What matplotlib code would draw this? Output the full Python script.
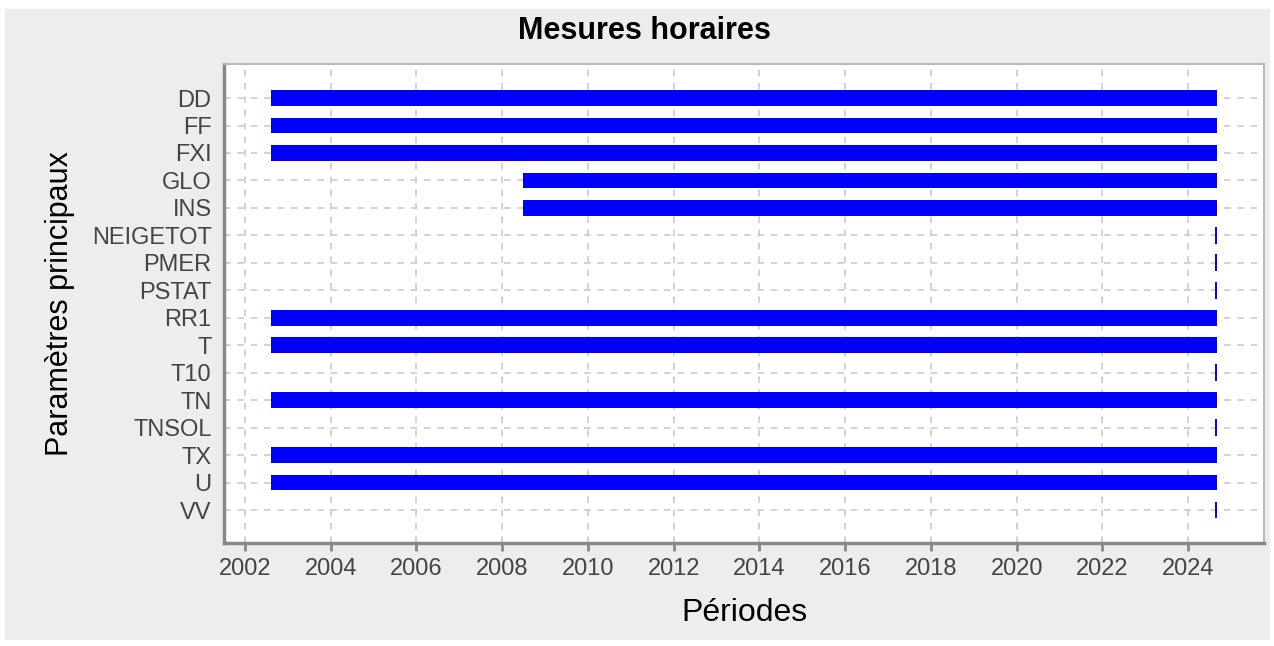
import matplotlib
matplotlib.use("Agg")
import matplotlib.pyplot as plt
from matplotlib.patches import Rectangle

params = ["DD", "FF", "FXI", "GLO", "INS", "NEIGETOT", "PMER", "PSTAT",
          "RR1", "T", "T10", "TN", "TNSOL", "TX", "U", "VV"]
starts = [2002.61, 2002.61, 2002.61, 2008.49, 2008.49, 2024.66, 2024.66, 2024.66,
          2002.61, 2002.61, 2024.66, 2002.61, 2024.66, 2002.61, 2002.61, 2024.66]
ends = [2024.68, 2024.68, 2024.68, 2024.68, 2024.68, 2024.67, 2024.67, 2024.67,
        2024.68, 2024.68, 2024.67, 2024.68, 2024.67, 2024.68, 2024.68, 2024.67]
xticks = list(range(2002, 2025, 2))

plt.rcParams['font.family'] = ['Liberation Sans', 'DejaVu Sans']

fig = plt.figure(figsize=(12.74, 6.46), dpi=100, facecolor="white")
fig.patches.append(Rectangle((5 / 1274, 6 / 646), 1265 / 1274, 631 / 646,
                             transform=fig.transFigure, facecolor="#ededed",
                             edgecolor="none", zorder=-10))
ax = fig.add_axes([224 / 1274, 1 - 543 / 646, 1040 / 1274, 479 / 646])
ax.set_facecolor("white")

ypos = list(range(len(params)))
for y, s, e in zip(ypos, starts, ends):
    if e - s > 0.05:
        ax.barh(y, e - s, left=s, height=0.57, color="#0000ff", zorder=3)
    else:
        ax.plot([s, s], [y - 0.27, y + 0.27], color="#0000ff", lw=1.4, zorder=3)

ax.set_xlim(2001.51, 2025.77)
ax.set_ylim(len(params) - 1 + 1.2, -1.24)
ax.set_yticks(ypos)
ax.set_yticklabels(params)
ax.set_xticks(xticks)

ax.grid(True, color="#cccccc", linestyle=(0, (4, 4)), lw=1.2, zorder=0)
for side in ["top", "right"]:
    ax.spines[side].set_color("#bbbbbb")
    ax.spines[side].set_linewidth(1.5)
for side in ["left", "bottom"]:
    ax.spines[side].set_color("#888888")
    ax.spines[side].set_linewidth(2.5)
ax.tick_params(axis="x", colors="#888888", labelcolor="#444444", labelsize=17,
               length=6, width=2, pad=5)
ax.tick_params(axis="y", length=0, labelcolor="#444444", labelsize=17, pad=9)

fig.text(0.506, 1 - 31 / 646, "Mesures horaires", fontsize=22,
         fontweight="bold", ha="center", va="center")
ax.set_xlabel("Périodes", fontsize=23, labelpad=13)
ax.set_ylabel("Paramètres principaux", fontsize=22, labelpad=12)

fig.savefig("out.png", dpi=100, facecolor=fig.get_facecolor())
